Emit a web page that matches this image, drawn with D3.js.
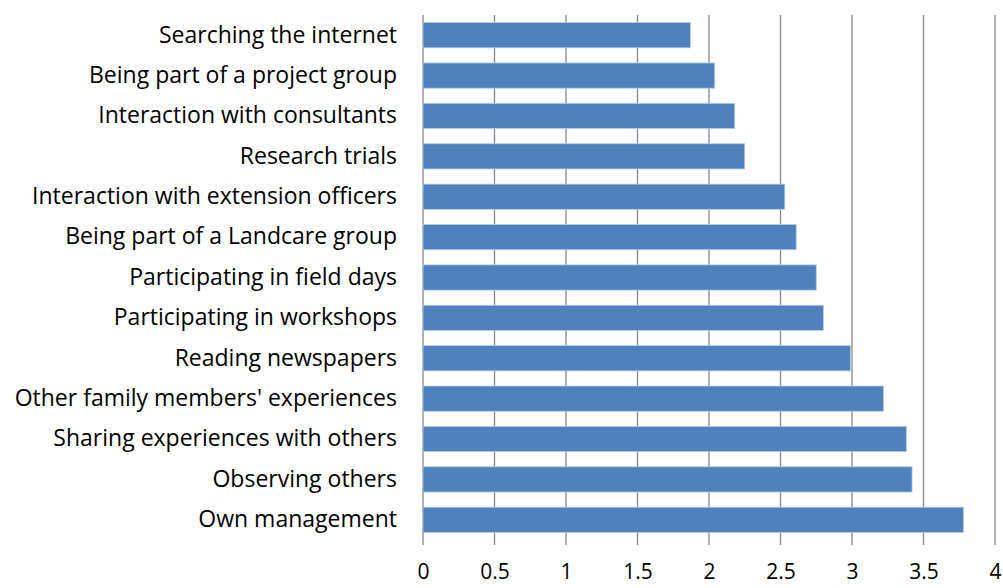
<!DOCTYPE html>
<html>
<head>
<meta charset="utf-8">
<script src="https://cdn.jsdelivr.net/npm/d3@7"></script>
<style>
	body { margin: 0; background: #fff; }
	svg text { font-family: "Open Sans", sans-serif; fill: #000; }
	.axis .domain { display: none; }
</style>
</head>
<body>
<div id="chart"></div>
<script>
const categories = [
	'Searching the internet',
	'Being part of a project group',
	'Interaction with consultants',
	'Research trials',
	'Interaction with extension officers',
	'Being part of a Landcare group',
	'Participating in field days',
	'Participating in workshops',
	'Reading newspapers',
	"Other family members' experiences",
	'Sharing experiences with others',
	'Observing others',
	'Own management',
];
const values = [1.87, 2.04, 2.18, 2.25, 2.53, 2.61, 2.75, 2.80, 2.99, 3.22, 3.38, 3.42, 3.78];
const xTicks = [0, 0.5, 1, 1.5, 2, 2.5, 3, 3.5, 4];

const data = categories.map((c, i) => ({ name: c, value: values[i] }));

const width = 1003;
const height = 588;
const plot = { left: 423, right: 995, top: 15, bottom: 540 };

const svg = d3.select('#chart').append('svg')
	.attr('width', width)
	.attr('height', height);

const x = d3.scaleLinear()
	.domain([0, 4])
	.range([plot.left, plot.right]);
const y = d3.scaleBand()
	.domain(categories)
	.range([plot.top, plot.bottom])
	.paddingInner(0.375)
	.paddingOuter(0.1875);

// gridlines (0 is the axis line)
svg.append('g')
	.selectAll('line')
	.data(xTicks)
	.enter().append('line')
		.attr('x1', d => x(d))
		.attr('x2', d => x(d))
		.attr('y1', plot.top)
		.attr('y2', plot.bottom + 5)
		.style('stroke', '#878787')
		.style('stroke-width', 1.3);

// bars
svg.append('g')
	.selectAll('rect')
	.data(data)
	.enter().append('rect')
		.attr('x', x(0))
		.attr('y', d => y(d.name))
		.attr('width', d => x(d.value) - x(0))
		.attr('height', y.bandwidth())
		.style('fill', '#4f81bd')
		.style('stroke', '#b9cde5')
		.style('stroke-width', 0.8);

// axes
const xAxis = d3.axisBottom(x)
	.tickValues(xTicks)
	.tickSize(0)
	.tickPadding(0)
	.tickFormat(d3.format('~g'));
svg.append('g')
	.attr('class', 'x axis')
	.attr('transform', `translate(0, ${plot.bottom + 24})`)
	.call(xAxis)
	.selectAll('text')
		.style('font-size', '21px');

const yAxis = d3.axisLeft(y)
	.tickSize(0)
	.tickPadding(26);
svg.append('g')
	.attr('class', 'y axis')
	.attr('transform', `translate(${plot.left}, 0)`)
	.call(yAxis)
	.selectAll('text')
		.style('font-size', '23px');
</script>
</body>
</html>
